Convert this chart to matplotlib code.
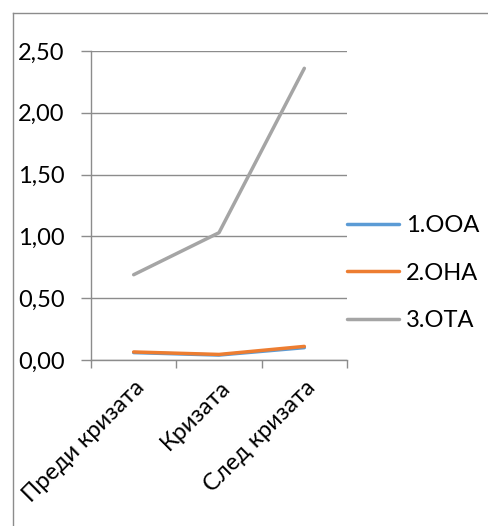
import matplotlib
matplotlib.use("Agg")
import matplotlib.pyplot as plt
from matplotlib.ticker import FuncFormatter, FixedLocator
from matplotlib.lines import Line2D

categories = ["Преди кризата", "Кризата", "След кризата"]
ooa = [0.06, 0.04, 0.10]
ona = [0.065, 0.045, 0.11]
ota = [0.69, 1.03, 2.36]
series_names = ["1.ООА", "2.ОНА", "3.ОТА"]
yticks = [0.0, 0.5, 1.0, 1.5, 2.0, 2.5]

plt.rcParams["font.family"] = ["Lato", "DejaVu Sans"]
FS = 17

fig = plt.figure(figsize=(4.88, 5.26), dpi=100)
ax = fig.add_axes([91 / 488, 1 - 360 / 526, 256 / 488, 309 / 526])

x = [i + 0.5 for i in range(len(categories))]
colors = ["#5B9BD5", "#ED7D31", "#A5A5A5"]
for vals, name, c in zip([ooa, ona, ota], series_names, colors):
    ax.plot(x, vals, color=c, lw=2.5, solid_capstyle="round", label=name)

ax.set_xlim(0, len(categories))
ax.set_ylim(0, 2.5)
ax.yaxis.set_major_locator(FixedLocator(yticks))
ax.yaxis.set_major_formatter(FuncFormatter(lambda v, p: f"{v:.2f}".replace(".", ",")))
ax.grid(axis="y", color="#8c8c8c", lw=1)
ax.set_axisbelow(True)

ax.xaxis.set_major_locator(FixedLocator(range(len(categories) + 1)))
ax.xaxis.set_minor_locator(FixedLocator(x))
ax.set_xticklabels([""] * (len(categories) + 1))
ax.set_xticklabels(categories, minor=True, rotation=45, ha="right", va="top",
                   rotation_mode="anchor", fontsize=FS)
ax.tick_params(axis="x", which="minor", length=0, pad=12)
ax.tick_params(axis="x", which="major", length=6, color="#8c8c8c", width=1)
ax.tick_params(axis="y", length=7, color="#8c8c8c", width=1, labelsize=FS, pad=12)

for s in ["top", "right"]:
    ax.spines[s].set_visible(False)
for s in ["left", "bottom"]:
    ax.spines[s].set_color("#8c8c8c")
    ax.spines[s].set_linewidth(1)

leg = fig.legend(loc="upper left", bbox_to_anchor=(340 / 488, 1 - 208 / 526),
                 frameon=False, fontsize=FS, handlelength=2.2, handletextpad=0.3,
                 labelspacing=1.12, borderaxespad=0, borderpad=0.3)

# chart frame
fig.add_artist(Line2D([12.5 / 488, 1], [1 - 12.5 / 526] * 2, color="#8c8c8c", lw=1))
fig.add_artist(Line2D([12.5 / 488] * 2, [0, 1 - 12.5 / 526], color="#8c8c8c", lw=1))

fig.savefig("out.png", dpi=100)
